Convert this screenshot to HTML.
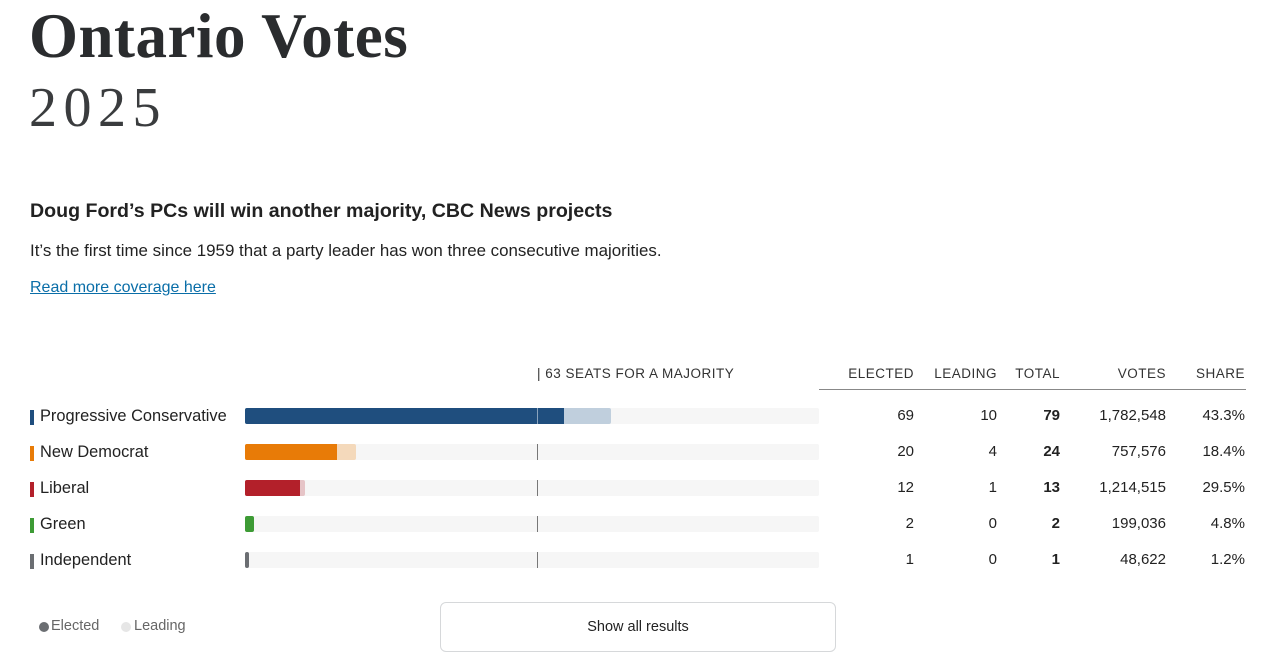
<!DOCTYPE html>
<html><head><meta charset="utf-8"><style>
*{margin:0;padding:0;box-sizing:border-box}
body{width:1283px;height:672px;background:#fff;font-family:"Liberation Sans",sans-serif;color:#222;position:relative;overflow:hidden}
.a{position:absolute;white-space:nowrap}
.h1{left:29px;top:0px;font-family:"Liberation Serif",serif;font-weight:bold;font-size:63px;letter-spacing:0.5px;color:#2a2c2e}
.h2{left:29px;top:76px;font-family:"Liberation Serif",serif;font-size:56px;color:#3a3c3e;letter-spacing:6.5px;font-weight:normal}
.hd{font-size:13.5px;color:#333;letter-spacing:.5px;top:366px}
.lab{left:30px;font-size:16.4px;color:#222;padding-left:10px}
.lab:before{content:"";position:absolute;left:0;top:3px;width:4px;height:15px;background:var(--c)}
.track{left:245px;width:574px;height:16px;background:#f6f6f6;border-radius:2px}
.num{font-size:15px;text-align:right;width:80px}
</style></head><body>
<div class="a h1">Ontario Votes</div>
<div class="a h2">2025</div>
<div class="a" style="left:30px;top:200px;font-size:19.6px;font-weight:bold;color:#222">Doug Ford’s PCs will win another majority, CBC News projects</div>
<div class="a" style="left:30px;top:241px;font-size:16.9px;color:#222">It’s the first time since 1959 that a party leader has won three consecutive majorities.</div>
<div class="a" style="left:30px;top:279px;font-size:16px;color:#0a6ea8;text-decoration:underline">Read more coverage here</div>

<div class="a hd" style="left:537px">| 63 SEATS FOR A MAJORITY</div>
<div class="a hd" style="left:834px;width:80px;text-align:right">ELECTED</div>
<div class="a hd" style="left:917px;width:80px;text-align:right">LEADING</div>
<div class="a hd" style="left:980px;width:80px;text-align:right">TOTAL</div>
<div class="a hd" style="left:1086px;width:80px;text-align:right">VOTES</div>
<div class="a hd" style="left:1165px;width:80px;text-align:right">SHARE</div>
<div class="a" style="left:819px;top:389px;width:427px;height:1px;background:#888"></div>

<div class="a lab" style="top:407px;--c:#1f4e7e">Progressive Conservative</div>
<div class="a track" style="top:408px"></div>
<div class="a" style="left:245px;top:408px;width:366px;height:16px;background:#c0cfdd;border-radius:2px"></div>
<div class="a" style="left:245px;top:408px;width:319px;height:16px;background:#1f4e7e;border-radius:2px 0 0 2px"></div>

<div class="a lab" style="top:443px;--c:#e87b07">New Democrat</div>
<div class="a track" style="top:444px"></div>
<div class="a" style="left:245px;top:444px;width:111px;height:16px;background:#f4d9bb;border-radius:2px"></div>
<div class="a" style="left:245px;top:444px;width:92px;height:16px;background:#e87b07;border-radius:2px 0 0 2px"></div>

<div class="a lab" style="top:479px;--c:#b3202a">Liberal</div>
<div class="a track" style="top:480px"></div>
<div class="a" style="left:245px;top:480px;width:60px;height:16px;background:#e6c4c7;border-radius:2px"></div>
<div class="a" style="left:245px;top:480px;width:55px;height:16px;background:#b3202a;border-radius:2px 0 0 2px"></div>

<div class="a lab" style="top:515px;--c:#3d9b35">Green</div>
<div class="a track" style="top:516px"></div>
<div class="a" style="left:245px;top:516px;width:9px;height:16px;background:#3d9b35;border-radius:2px"></div>

<div class="a lab" style="top:551px;--c:#6b6e72">Independent</div>
<div class="a track" style="top:552px"></div>
<div class="a" style="left:245px;top:552px;width:4px;height:16px;background:#6b6e72;border-radius:2px"></div>

<div class="a" style="left:537px;top:408px;width:1px;height:16px;background:#8aa3bd"></div>
<div class="a" style="left:537px;top:444px;width:1px;height:16px;background:#777"></div>
<div class="a" style="left:537px;top:480px;width:1px;height:16px;background:#777"></div>
<div class="a" style="left:537px;top:516px;width:1px;height:16px;background:#777"></div>
<div class="a" style="left:537px;top:552px;width:1px;height:16px;background:#777"></div>

<div class="a num" style="left:834px;top:407px">69</div><div class="a num" style="left:917px;top:407px">10</div><div class="a num" style="left:980px;top:407px;font-weight:bold">79</div><div class="a num" style="left:1086px;top:407px">1,782,548</div><div class="a num" style="left:1165px;top:407px">43.3%</div>
<div class="a num" style="left:834px;top:443px">20</div><div class="a num" style="left:917px;top:443px">4</div><div class="a num" style="left:980px;top:443px;font-weight:bold">24</div><div class="a num" style="left:1086px;top:443px">757,576</div><div class="a num" style="left:1165px;top:443px">18.4%</div>
<div class="a num" style="left:834px;top:479px">12</div><div class="a num" style="left:917px;top:479px">1</div><div class="a num" style="left:980px;top:479px;font-weight:bold">13</div><div class="a num" style="left:1086px;top:479px">1,214,515</div><div class="a num" style="left:1165px;top:479px">29.5%</div>
<div class="a num" style="left:834px;top:515px">2</div><div class="a num" style="left:917px;top:515px">0</div><div class="a num" style="left:980px;top:515px;font-weight:bold">2</div><div class="a num" style="left:1086px;top:515px">199,036</div><div class="a num" style="left:1165px;top:515px">4.8%</div>
<div class="a num" style="left:834px;top:551px">1</div><div class="a num" style="left:917px;top:551px">0</div><div class="a num" style="left:980px;top:551px;font-weight:bold">1</div><div class="a num" style="left:1086px;top:551px">48,622</div><div class="a num" style="left:1165px;top:551px">1.2%</div>

<div class="a" style="left:39px;top:622px;width:10px;height:10px;border-radius:50%;background:#6b6e72"></div>
<div class="a" style="left:51px;top:618px;font-size:14.5px;color:#666">Elected</div>
<div class="a" style="left:121px;top:622px;width:10px;height:10px;border-radius:50%;background:#e6e6e6"></div>
<div class="a" style="left:134px;top:618px;font-size:14.5px;color:#666">Leading</div>
<div class="a" style="left:440px;top:602px;width:396px;height:50px;border:1px solid #d6d8da;border-radius:6px;text-align:center;line-height:48px;font-size:14.5px;color:#222">Show all results</div>
</body></html>
